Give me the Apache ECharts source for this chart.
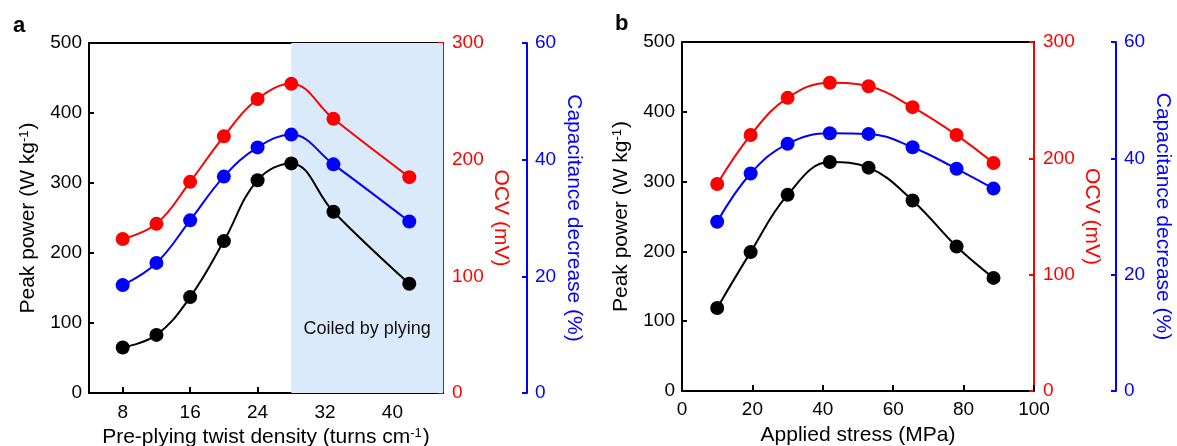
<!DOCTYPE html>
<html lang="en">
<head>
    <meta charset="UTF-8">
    <title>Peak power / OCV / capacitance decrease</title>
    <script src="https://cdn.jsdelivr.net/npm/echarts@6/dist/echarts.min.js"></script>
    <style>
        html, body { margin: 0; padding: 0; background: #fff; }
    </style>
</head>
<body>
    <div id="container" style="width: 1177px;height: 446px"></div>

    <script>
        // panel a : pre-plying twist density
        var twistDensity = [8, 12, 16, 20, 24, 28, 33, 42];
        var powerA = [65, 83, 137, 217, 304, 328, 259, 156];
        var ocvA = [132, 145, 181, 220, 252, 265, 235, 185];
        var capA = [18.5, 22.3, 29.6, 37.1, 42.1, 44.3, 39.2, 29.4];
        var coiledFrom = 28; // start of the shaded "coiled" region
        var twistTicks = [8, 16, 24, 32, 40];

        // panel b : applied stress
        var stress = [10, 19.5, 30, 42, 53, 65.5, 78, 88.5];
        var powerB = [119, 199, 281, 328, 320, 273, 207, 162];
        var ocvB = [178, 220, 252, 265, 262, 244, 220, 196];
        var capB = [29.1, 37.4, 42.5, 44.3, 44.2, 41.9, 38.2, 34.8];

        var FONT = 'Liberation Sans';
        var BLACK = '#000000', RED = '#ff0000', BLUE = '#0000ff';

        function pairs(xs, ys) {
            return xs.map(function (x, i) { return [x, ys[i]]; });
        }

        function supRich(color) {
            return {
                sup: { fontFamily: FONT, fontSize: 13, color: color, verticalAlign: 'top', padding: [0, 1, 8, 0] }
            };
        }

        // y axes for one grid: left black, right red, right blue (offset)
        function yAxes(gridIndex, blueOffset) {
            return [{
                gridIndex: gridIndex, type: 'value', position: 'left',
                min: 0, max: 500, interval: 100,
                name: 'Peak power (W kg{sup|-1})', nameLocation: 'middle', nameGap: 50,
                nameTextStyle: { fontFamily: FONT, fontSize: 21, color: BLACK, rich: supRich(BLACK) },
                axisLine: { show: true, onZero: false, lineStyle: { color: BLACK, width: 2 } },
                axisTick: { inside: true, length: 5, lineStyle: { color: BLACK, width: 2 } },
                axisLabel: { fontFamily: FONT, fontSize: 19, color: BLACK, margin: 7 },
                splitLine: { show: false }
            }, {
                gridIndex: gridIndex, type: 'value', position: 'right',
                min: 0, max: 300, interval: 100,
                name: 'OCV (mV)', nameLocation: 'middle', nameGap: 47, nameRotate: -90,
                nameTextStyle: { fontFamily: FONT, fontSize: 21, color: RED },
                axisLine: { show: true, onZero: false, lineStyle: { color: RED, width: 2 } },
                axisTick: { inside: true, length: 5, lineStyle: { color: RED, width: 2 } },
                axisLabel: { fontFamily: FONT, fontSize: 19, color: RED, margin: 9 },
                splitLine: { show: false }
            }, {
                gridIndex: gridIndex, type: 'value', position: 'right', offset: blueOffset,
                min: 0, max: 60, interval: 20,
                name: 'Capacitance decrease (%)', nameLocation: 'middle', nameGap: 36, nameRotate: -90,
                nameTextStyle: { fontFamily: FONT, fontSize: 21, color: BLUE },
                axisLine: { show: true, onZero: false, lineStyle: { color: BLUE, width: 2 } },
                axisTick: { inside: true, length: 5, lineStyle: { color: BLUE, width: 2 } },
                axisLabel: { fontFamily: FONT, fontSize: 19, color: BLUE, margin: 8 },
                splitLine: { show: false }
            }];
        }

        function topAxis(gridIndex, min, max) {
            return {
                gridIndex: gridIndex, type: 'value', position: 'top', min: min, max: max,
                axisLine: { show: true, onZero: false, lineStyle: { color: BLACK, width: 2 } },
                axisTick: { show: false }, axisLabel: { show: false }, splitLine: { show: false }
            };
        }

        function curve(xi, yi, data, color) {
            return {
                type: 'line', xAxisIndex: xi, yAxisIndex: yi, data: data,
                smooth: 0.4, symbol: 'circle', symbolSize: 14,
                itemStyle: { color: color }, lineStyle: { color: color, width: 2 }
            };
        }

        var myChart = echarts.init(document.getElementById('container'), null, { renderer: 'canvas' });

        myChart.setOption({
            animation: false,
            backgroundColor: '#ffffff',
            title: [
                { text: 'a', left: 8, top: 10, textStyle: { fontFamily: FONT, fontSize: 22, fontWeight: 'bold', color: BLACK } },
                { text: 'b', left: 610, top: 8, textStyle: { fontFamily: FONT, fontSize: 22, fontWeight: 'bold', color: BLACK } }
            ],
            // fixed plot boxes, no auto shrinking for labels
            grid: [
                { left: 89, top: 43, width: 354, height: 350, outerBoundsMode: 'none', containLabel: false },
                { left: 682, top: 42, width: 352, height: 349, outerBoundsMode: 'none', containLabel: false }
            ],
            xAxis: [{
                gridIndex: 0, type: 'value', min: 4, max: 46,
                name: 'Pre-plying twist density (turns cm{sup|-1})', nameLocation: 'middle', nameGap: 29,
                nameTextStyle: { fontFamily: FONT, fontSize: 21, color: BLACK, rich: supRich(BLACK) },
                axisLine: { show: true, onZero: false, lineStyle: { color: BLACK, width: 2 } },
                axisTick: { inside: true, length: 6, customValues: twistTicks, lineStyle: { color: BLACK, width: 2 } },
                axisLabel: { fontFamily: FONT, fontSize: 19, color: BLACK, margin: 10, customValues: twistTicks },
                splitLine: { show: false }
            },
            topAxis(0, 4, 46),
            {
                gridIndex: 1, type: 'value', min: 0, max: 100, interval: 20,
                name: 'Applied stress (MPa)', nameLocation: 'middle', nameGap: 34,
                nameTextStyle: { fontFamily: FONT, fontSize: 21, color: BLACK },
                axisLine: { show: true, onZero: false, lineStyle: { color: BLACK, width: 2 } },
                axisTick: { inside: true, length: 6, lineStyle: { color: BLACK, width: 2 } },
                axisLabel: { fontFamily: FONT, fontSize: 19, color: BLACK, margin: 9 },
                splitLine: { show: false }
            },
            topAxis(1, 0, 100)],
            yAxis: yAxes(0, 84).concat(yAxes(1, 82)),
            series: [
                {
                    // shaded region in panel a
                    type: 'line', xAxisIndex: 0, yAxisIndex: 0, data: [], silent: true,
                    markArea: {
                        silent: true,
                        itemStyle: { color: '#dbeafb' },
                        label: {
                            show: true, position: 'insideBottom', distance: 55,
                            fontFamily: FONT, fontSize: 18, color: '#111111'
                        },
                        data: [[{ name: 'Coiled by plying', xAxis: coiledFrom }, { xAxis: 46 }]]
                    }
                },
                curve(0, 0, pairs(twistDensity, powerA), BLACK),
                curve(0, 1, pairs(twistDensity, ocvA), RED),
                curve(0, 2, pairs(twistDensity, capA), BLUE),
                curve(2, 3, pairs(stress, powerB), BLACK),
                curve(2, 4, pairs(stress, ocvB), RED),
                curve(2, 5, pairs(stress, capB), BLUE)
            ]
        });
    </script>
</body>
</html>
